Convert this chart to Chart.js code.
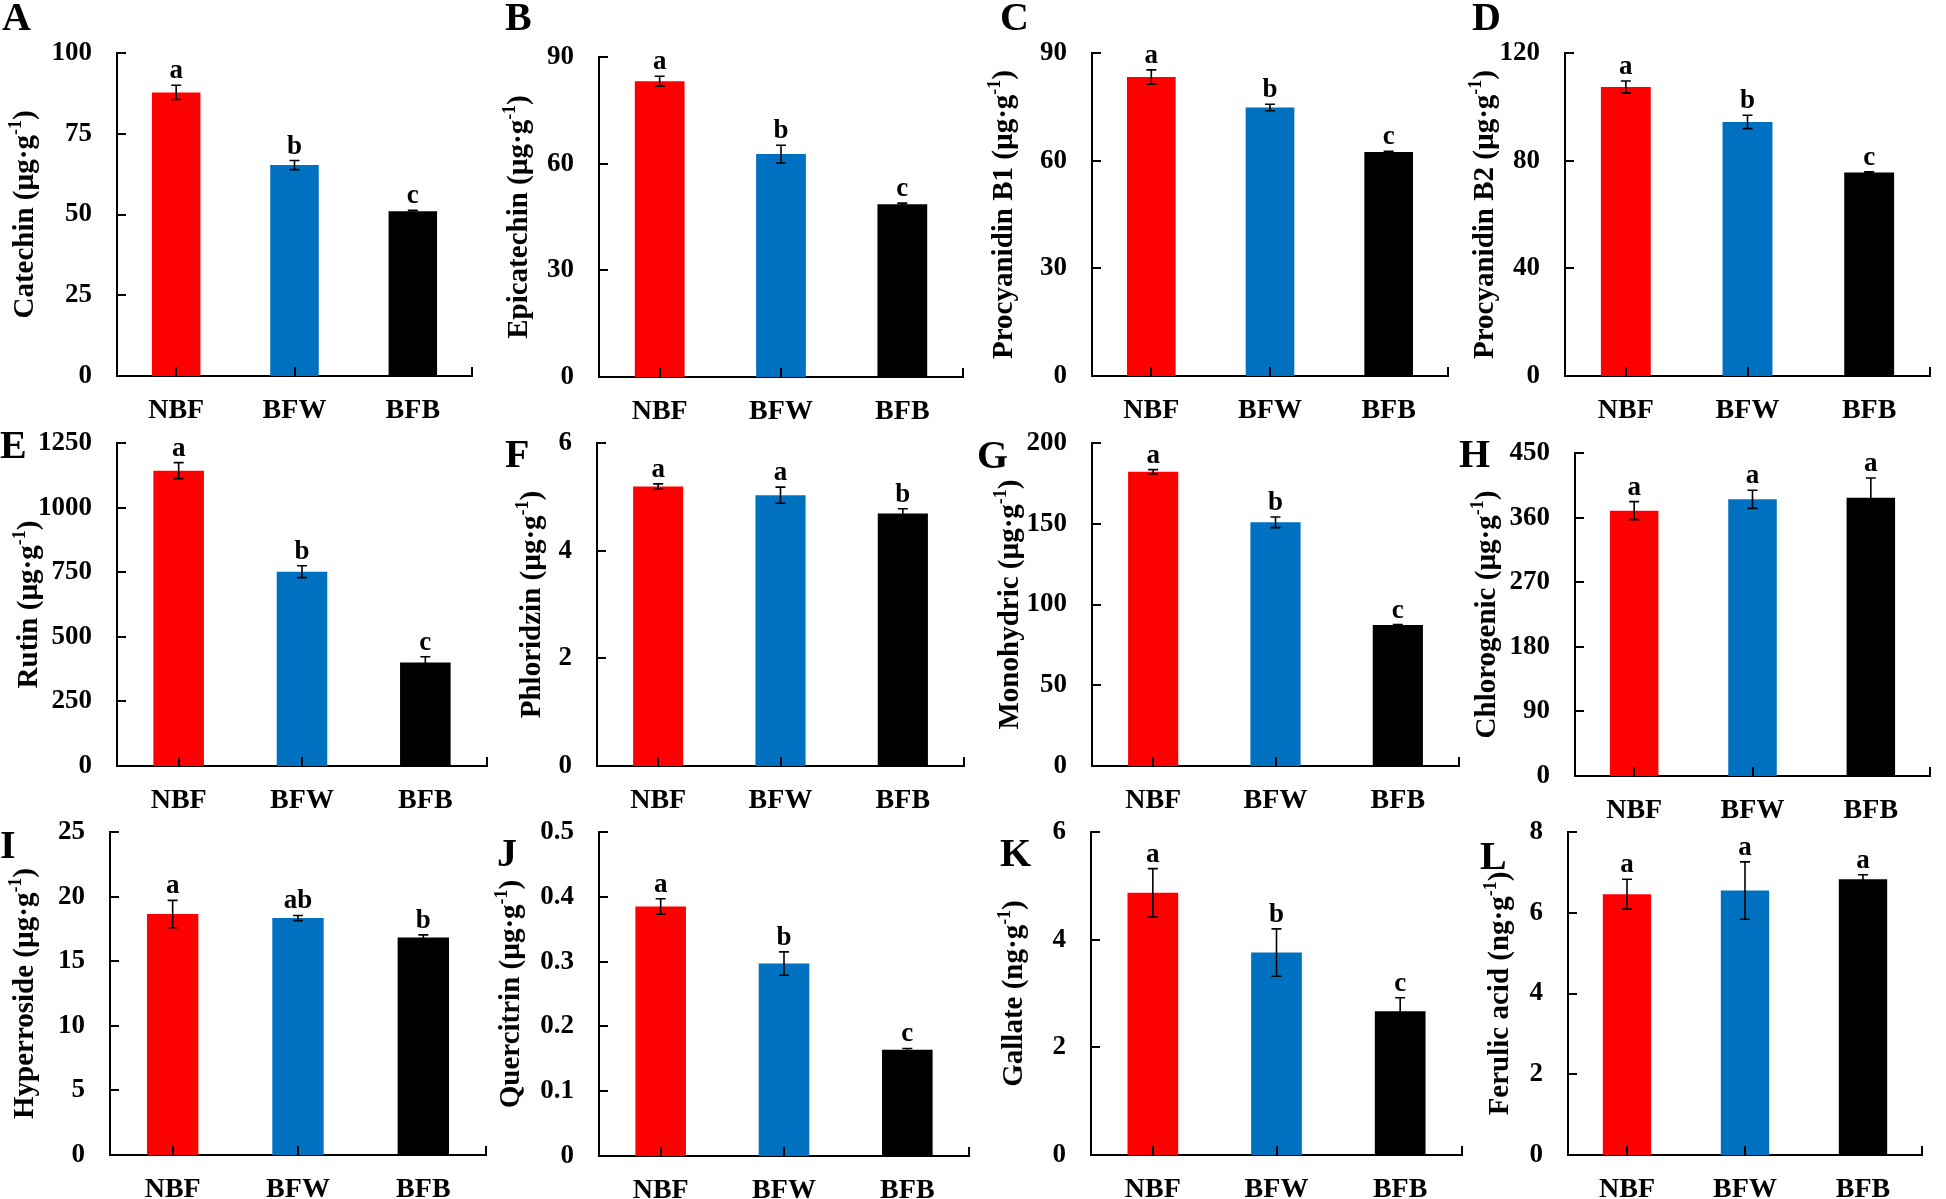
<!DOCTYPE html>
<html>
<head>
<meta charset="utf-8">
<script src="https://cdn.jsdelivr.net/npm/chart.js@4.4.1/dist/chart.umd.min.js"></script>
<style>
  html, body { margin: 0; padding: 0; background: #fff; overflow: hidden; }
  body { width: 1946px; height: 1199px; position: relative; }
  canvas { position: absolute; }
</style>
</head>
<body>
<script>
// --- data ---
const categories = ['NBF', 'BFW', 'BFB'];
const panelIds = ['A', 'B', 'C', 'D', 'E', 'F', 'G', 'H', 'I', 'J', 'K', 'L'];
const compounds = ['Catechin', 'Epicatechin', 'Procyanidin B1', 'Procyanidin B2', 'Rutin', 'Phloridzin',
  'Monohydric', 'Chlorogenic', 'Hyperroside', 'Quercitrin', 'Gallate', 'Ferulic acid'];
const units = ['µg·g', 'µg·g', 'µg·g', 'µg·g', 'µg·g', 'µg·g', 'µg·g', 'µg·g', 'µg·g', 'µg·g', 'ng·g', 'ng·g'];

const nbfMean = [87.8, 83.2, 83.3, 107.4, 1143, 5.19, 182.2, 369.7, 18.65, 0.385, 4.87, 6.46];
const bfwMean = [65.3, 62.7, 74.8, 94.4, 752, 5.03, 150.9, 385.4, 18.34, 0.297, 3.76, 6.55];
const bfbMean = [51.0, 48.6, 62.4, 75.6, 401, 4.69, 87.3, 387.8, 16.84, 0.164, 2.67, 6.83];
const nbfSd = [2.2, 1.4, 2.0, 2.2, 31, 0.05, 1.3, 12.5, 1.06, 0.012, 0.45, 0.37];
const bfwSd = [1.4, 2.5, 0.9, 2.5, 23, 0.15, 3.3, 12.6, 0.2, 0.018, 0.44, 0.71];
const bfbSd = [0.3, 0.3, 0.2, 0.3, 22, 0.09, 0.3, 27.4, 0.2, 0.002, 0.25, 0.11];
const nbfSig = ['a', 'a', 'a', 'a', 'a', 'a', 'a', 'a', 'a', 'a', 'a', 'a'];
const bfwSig = ['b', 'b', 'b', 'b', 'b', 'a', 'b', 'a', 'ab', 'b', 'b', 'a'];
const bfbSig = ['c', 'c', 'c', 'c', 'c', 'b', 'c', 'a', 'b', 'c', 'c', 'a'];

const yMax = [100, 90, 90, 120, 1250, 6, 200, 450, 25, 0.5, 6, 8];
const yStep = [25, 30, 30, 40, 250, 2, 50, 90, 5, 0.1, 2, 2];

// --- layout (page pixels) ---
const plotBoxes = [
  [117, 53, 472, 376], [599, 57, 963, 377], [1092, 53, 1448, 376], [1565, 53, 1930, 376],
  [117, 443, 487, 766], [597, 443, 964, 766], [1092, 443, 1459, 766], [1575, 453, 1930, 776],
  [110, 832, 486, 1155], [599, 832, 969, 1156], [1091, 832, 1462, 1155], [1568, 832, 1922, 1155]
];
const titleGap = [84, 72, 80, 72, 80, 57, 74, 80, 77, 80, 69, 60];
const tagPos = [[2, 30], [505, 30], [1000, 30], [1472, 30], [0, 458], [505, 467], [977, 468], [1459, 467],
  [0, 858], [497, 866], [1000, 866], [1480, 869]];

const SERIF = '"Liberation Serif", "Times New Roman", serif';
const M = { l: 120, t: 55, r: 15, b: 50 };
const colors = ['#FF0000', '#0070C0', '#000000'];

function fmt(v) { return String(Number(v.toFixed(3))); }

// ticks pointing inward, error bars, letters, y title, panel tag
function makeDecor(i, canvasLeft, canvasTop) {
  const means = [nbfMean[i], bfwMean[i], bfbMean[i]];
  const sds = [nbfSd[i], bfwSd[i], bfbSd[i]];
  const sigs = [nbfSig[i], bfwSig[i], bfbSig[i]];
  return {
    id: 'decor' + i,
    afterDatasetsDraw(chart) {
      const ctx = chart.ctx, ys = chart.scales.y, area = chart.chartArea;
      const bars = chart.getDatasetMeta(0).data;
      ctx.save();
      ctx.strokeStyle = '#000';
      ctx.fillStyle = '#000';

      ctx.lineWidth = 2;
      ctx.beginPath();
      ys.ticks.forEach(t => {
        const y = Math.round(ys.getPixelForValue(t.value));
        ctx.moveTo(area.left, y);
        ctx.lineTo(area.left + 9, y);
      });
      bars.forEach(b => {
        ctx.moveTo(Math.round(b.x), area.bottom);
        ctx.lineTo(Math.round(b.x), area.bottom - 9);
      });
      ctx.moveTo(area.right, area.bottom);
      ctx.lineTo(area.right, area.bottom - 9);
      ctx.stroke();

      ctx.lineWidth = 1.6;
      ctx.beginPath();
      bars.forEach((b, j) => {
        const yt = ys.getPixelForValue(means[j] + sds[j]);
        const yb = ys.getPixelForValue(means[j] - sds[j]);
        ctx.moveTo(b.x, yt); ctx.lineTo(b.x, yb);
        ctx.moveTo(b.x - 5, yt); ctx.lineTo(b.x + 5, yt);
        ctx.moveTo(b.x - 5, yb); ctx.lineTo(b.x + 5, yb);
      });
      ctx.stroke();

      ctx.font = 'bold 27px ' + SERIF;
      ctx.textAlign = 'center';
      ctx.textBaseline = 'alphabetic';
      bars.forEach((b, j) => {
        ctx.fillText(sigs[j], b.x, ys.getPixelForValue(means[j] + sds[j]) - 7);
      });

      // rotated y title with superscript
      const main = compounds[i] + ' (' + units[i];
      ctx.font = 'bold 29px ' + SERIF;
      const w1 = ctx.measureText(main).width;
      const w3 = ctx.measureText(')').width;
      ctx.font = 'bold 18px ' + SERIF;
      const w2 = ctx.measureText('-1').width;
      ctx.save();
      ctx.translate(area.left - titleGap[i], (area.top + area.bottom) / 2);
      ctx.rotate(-Math.PI / 2);
      ctx.textAlign = 'left';
      let x = -(w1 + w2 + w3) / 2;
      ctx.font = 'bold 29px ' + SERIF;
      ctx.fillText(main, x, 0);
      x += w1;
      ctx.font = 'bold 18px ' + SERIF;
      ctx.fillText('-1', x, -12);
      x += w2;
      ctx.font = 'bold 29px ' + SERIF;
      ctx.fillText(')', x, 0);
      ctx.restore();

      ctx.font = 'bold 40px ' + SERIF;
      ctx.textAlign = 'left';
      ctx.fillText(panelIds[i], tagPos[i][0] - canvasLeft, tagPos[i][1] - canvasTop);
      ctx.restore();
    }
  };
}

plotBoxes.forEach((p, i) => {
  const cv = document.createElement('canvas');
  const left = p[0] - M.l, top = p[1] - M.t;
  const w = p[2] - p[0] + M.l + M.r, h = p[3] - p[1] + M.t + M.b;
  cv.width = w; cv.height = h;
  cv.style.left = left + 'px'; cv.style.top = top + 'px';
  cv.style.width = w + 'px'; cv.style.height = h + 'px';
  document.body.appendChild(cv);

  new Chart(cv, {
    type: 'bar',
    data: {
      labels: categories,
      datasets: [{
        data: [nbfMean[i], bfwMean[i], bfbMean[i]],
        backgroundColor: colors,
        borderWidth: 0,
        barPercentage: 0.41,
        categoryPercentage: 1
      }]
    },
    options: {
      responsive: false,
      animation: false,
      devicePixelRatio: 1,
      layout: { padding: { left: 0, top: M.t, right: M.r, bottom: 0 } },
      plugins: { legend: { display: false }, tooltip: { enabled: false } },
      scales: {
        x: {
          grid: { display: false, drawTicks: false },
          border: { color: '#000', width: 2 },
          ticks: { color: '#000', font: { family: SERIF, size: 28, weight: 'bold' }, padding: 18, maxRotation: 0 },
          afterFit(s) { s.height = M.b; }
        },
        y: {
          min: 0,
          max: yMax[i],
          grid: { display: false, drawTicks: false },
          border: { color: '#000', width: 2 },
          ticks: {
            stepSize: yStep[i],
            color: '#000',
            font: { family: SERIF, size: 27, weight: 'bold' },
            padding: 25,
            callback: v => fmt(v)
          },
          afterFit(s) { s.width = M.l; }
        }
      }
    },
    plugins: [makeDecor(i, left, top)]
  });
});
</script>
</body>
</html>
